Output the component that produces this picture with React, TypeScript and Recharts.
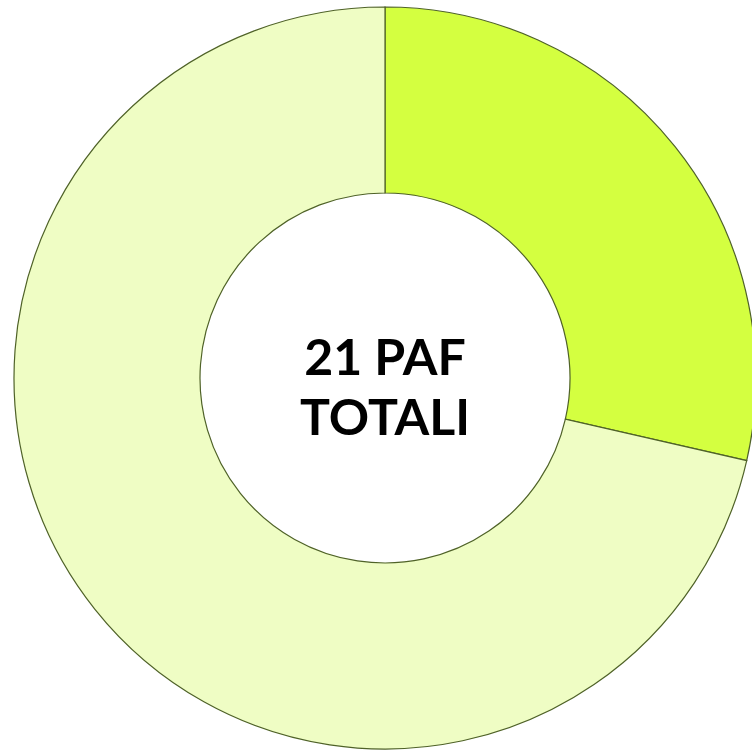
import React from "react";
import { PieChart, Pie, Cell, Label } from "recharts";

const categories = ["PAF A", "PAF B"];
const values = [6, 15];
const colors = ["#D4FF40", "#EFFDC4"];
const centerLines = ["21 PAF", "TOTALI"];

const data = categories.map((name, i) => ({ name, value: values[i] }));

const CenterLabel = (props: any) => {
  const vb = props.viewBox || {};
  const cx = vb.cx ?? 385;
  const cy = vb.cy ?? 378;
  return (
    <text
      x={cx}
      y={cy - 3}
      textAnchor="middle"
      fontFamily="Lato, 'Open Sans', sans-serif"
      fontWeight={700}
      fontSize={50}
      fill="#000"
    >
      <tspan x={cx} y={cy - 3}>{centerLines[0]}</tspan>
      <tspan x={cx} dy={60}>{centerLines[1]}</tspan>
    </text>
  );
};

export default function App() {
  return (
    <div style={{ position: "fixed", left: 0, top: 0, width: 752, height: 752, overflow: "hidden" }}>
      <PieChart width={752} height={752} margin={{ top: 0, right: 0, bottom: 0, left: 0 }}>
        <Pie
          data={data}
          dataKey="value"
          nameKey="name"
          cx={385}
          cy={378}
          innerRadius={185}
          outerRadius={371}
          startAngle={90}
          endAngle={-270}
          stroke="#4F6228"
          strokeWidth={1.2}
          isAnimationActive={false}
        >
          {data.map((d, i) => (
            <Cell key={d.name} fill={colors[i]} />
          ))}
          <Label content={<CenterLabel />} position="center" />
        </Pie>
      </PieChart>
    </div>
  );
}
